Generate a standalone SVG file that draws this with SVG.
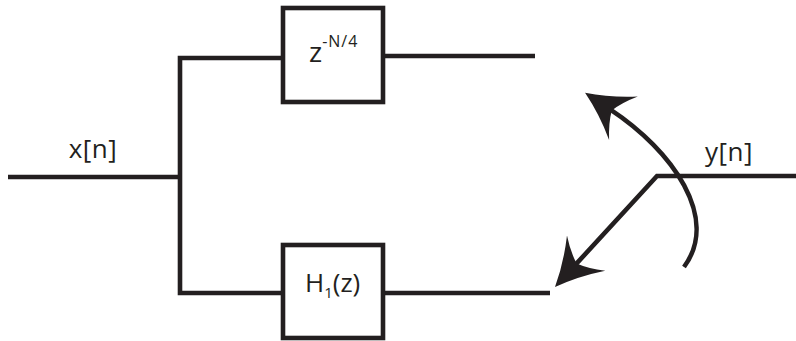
<svg xmlns="http://www.w3.org/2000/svg" width="796" height="341" viewBox="0 0 796 341">
<style>
.ln{fill:none;stroke:#231f20;stroke-width:4.6;stroke-linejoin:miter;stroke-linecap:butt}
.box{fill:#fff;stroke:#231f20;stroke-width:4.6}
.t{font-family:"Open Sans","Liberation Sans",sans-serif;fill:#231f20}
</style>
<defs>
<marker id="arr" markerUnits="userSpaceOnUse" markerWidth="60" markerHeight="60" viewBox="-50 -30 60 60" refX="-30" refY="0" orient="auto" overflow="visible">
<path d="M0,0 Q-24,-10 -46,-26 Q-36,-12 -32,0 Q-36,12 -46,26 Q-24,10 0,0 Z" fill="#231f20"/>
</marker>
</defs>
<g id="connectors">
<path class="ln" d="M8,177 H180"/>
<path class="ln" d="M283,58 H180 V293 H283"/>
<path class="ln" d="M385,56 H535"/>
<path class="ln" d="M385,293 H550"/>
<path class="ln" d="M796,176 H657 L575.3,264.9" marker-end="url(#arr)"/>
<path class="ln" d="M684,267 C720,218 673,151 610.1,109.4" marker-end="url(#arr)"/>
</g>
<g id="input">
<text class="t" x="93" y="158" font-size="26" text-anchor="middle" letter-spacing="0.5">x[n]</text>
</g>
<g id="delay">
<rect class="box" x="283" y="8" width="100" height="94"/>
<text class="t" x="309" y="62" font-size="28">z<tspan font-size="16" dy="-15" letter-spacing="1">-N/4</tspan></text>
</g>
<g id="filter">
<rect class="box" x="283" y="245" width="100" height="93"/>
<text class="t" x="305" y="292" font-size="26">H<tspan font-size="15" dy="6">1</tspan><tspan dy="-6">(z)</tspan></text>
</g>
<g id="output">
<text class="t" x="729" y="161" font-size="26" text-anchor="middle" letter-spacing="0.5">y[n]</text>
</g>
</svg>
